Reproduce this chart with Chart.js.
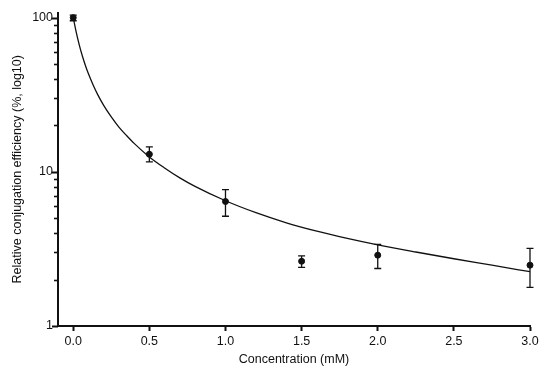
<!DOCTYPE html>
<html>
<head>
<meta charset="utf-8">
<script src="https://cdn.jsdelivr.net/npm/chart.js@4.4.1/dist/chart.umd.min.js"></script>
<style>
  html, body { margin: 0; padding: 0; background: #fff; }
  #wrap { width: 550px; height: 375px; }
</style>
</head>
<body>
<div id="wrap"><canvas id="chart"></canvas></div>
<script>
// measured points (mean with error bar ends)
const concentrations = [0, 0.5, 1.0, 1.5, 2.0, 3.0];
const meanEfficiency = [100, 13.0, 6.42, 2.63, 2.88, 2.48];
const errLow = [95.5, 11.6, 5.15, 2.40, 2.36, 1.78];
const errHigh = [104, 14.5, 7.66, 2.85, 3.38, 3.19];

// fitted curve
const fitX = [0, 0.02, 0.04, 0.06, 0.08, 0.1, 0.13, 0.16, 0.2, 0.25, 0.3, 0.35, 0.4, 0.5, 0.6, 0.7, 0.8, 1.0, 1.2, 1.4, 1.6, 1.8, 2.0, 2.25, 2.5, 2.75, 3.0];
const fitY = [100, 80.3, 66.4, 56.4, 49.0, 43.2, 36.7, 31.8, 27.0, 22.7, 19.5, 17.2, 15.3, 12.5, 10.6, 9.14, 8.05, 6.49, 5.43, 4.67, 4.12, 3.70, 3.36, 3.02, 2.73, 2.48, 2.25];

const xTicks = [0, 0.5, 1.0, 1.5, 2.0, 2.5, 3.0];
const yTicks = [1, 2, 3, 4, 5, 6, 7, 8, 9, 10, 20, 30, 40, 50, 60, 70, 80, 90, 100];
const yMajor = [1, 10, 100];

const ink = '#111';
const font = { family: 'Liberation Sans, Arial, sans-serif', size: 12.5 };

const errorBars = {
    id: 'errorBars',
    afterDatasetsDraw(chart) {
        const { ctx, scales: { x, y } } = chart;
        ctx.save();
        ctx.strokeStyle = ink;
        ctx.lineWidth = 1.3;
        concentrations.forEach((c, i) => {
            const px = x.getPixelForValue(c);
            const top = y.getPixelForValue(errHigh[i]);
            const bot = y.getPixelForValue(errLow[i]);
            ctx.beginPath();
            ctx.moveTo(px, top); ctx.lineTo(px, bot);
            ctx.moveTo(px - 3.5, top); ctx.lineTo(px + 3.5, top);
            ctx.moveTo(px - 3.5, bot); ctx.lineTo(px + 3.5, bot);
            ctx.stroke();
        });
        ctx.restore();
    }
};

// log axis tick marks: long for decades, short for the rest
const yTickMarks = {
    id: 'yTickMarks',
    afterDraw(chart) {
        const { ctx, scales: { y } } = chart;
        ctx.save();
        ctx.strokeStyle = ink;
        y.ticks.forEach(t => {
            const py = Math.round(y.getPixelForValue(t.value)) + 0.5;
            const major = yMajor.includes(t.value);
            ctx.lineWidth = major ? 2 : 1.6;
            ctx.beginPath();
            ctx.moveTo(y.right - (major ? 6 : 4), py);
            ctx.lineTo(y.right, py);
            ctx.stroke();
        });
        ctx.restore();
    }
};

new Chart(document.getElementById('chart'), {
    type: 'scatter',
    data: {
        datasets: [{
            type: 'line',
            data: fitX.map((v, i) => ({ x: v, y: fitY[i] })),
            borderColor: ink,
            borderWidth: 1.3,
            pointRadius: 0,
            cubicInterpolationMode: 'monotone',
            fill: false,
            clip: false
        }, {
            data: concentrations.map((v, i) => ({ x: v, y: meanEfficiency[i] })),
            backgroundColor: ink,
            borderColor: ink,
            pointRadius: 3,
            clip: false
        }]
    },
    options: {
        responsive: true,
        maintainAspectRatio: false,
        animation: false,
        layout: { padding: { left: 0, right: 20, top: 12, bottom: 0 } },
        plugins: { legend: { display: false }, tooltip: { enabled: false } },
        scales: {
            x: {
                type: 'linear',
                min: -0.1,
                max: 3.0,
                afterBuildTicks: s => { s.ticks = xTicks.map(v => ({ value: v })); },
                afterFit: s => { s.height = 49; },
                border: { display: true, color: ink, width: 2 },
                grid: { drawOnChartArea: false, drawTicks: true, tickLength: 5, tickWidth: 2, tickColor: ink },
                ticks: { color: ink, font, padding: 3, autoSkip: false, maxRotation: 0, callback: v => v.toFixed(1) },
                title: { display: true, text: 'Concentration (mM)', color: ink, font, padding: { top: 0, bottom: 8 } }
            },
            y: {
                type: 'logarithmic',
                min: 1,
                max: 108,
                afterBuildTicks: s => { s.ticks = yTicks.map(v => ({ value: v, major: yMajor.includes(v) })); },
                afterFit: s => { s.width = 58; },
                border: { display: true, color: ink, width: 2 },
                grid: { display: false, drawTicks: false },
                ticks: { color: ink, font, padding: 5, autoSkip: false, callback: v => yMajor.includes(v) ? String(v) : '' },
                title: { display: true, text: 'Relative conjugation efficiency (%, log10)', color: ink, font, padding: { top: 10, bottom: 0 } }
            }
        }
    },
    plugins: [errorBars, yTickMarks]
});
</script>
</body>
</html>
